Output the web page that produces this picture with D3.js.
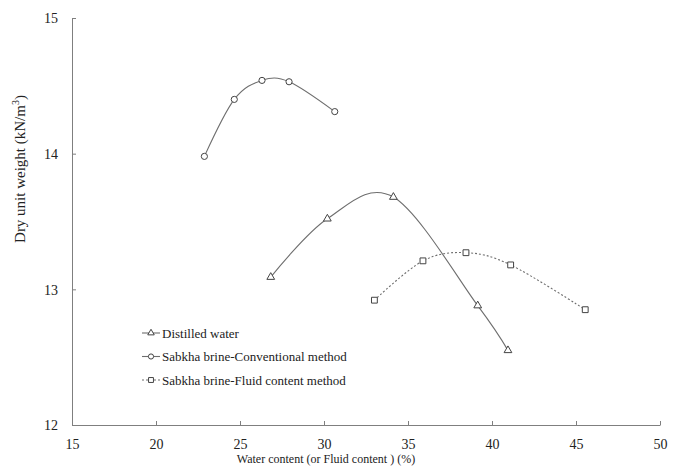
<!DOCTYPE html>
<html>
<head>
<meta charset="utf-8">
<script src="https://cdn.jsdelivr.net/npm/d3@7/dist/d3.min.js"></script>
<style>
  body { margin: 0; background: #fff; }
  svg text { font-family: "Liberation Serif", "Times New Roman", Times, "DejaVu Serif", serif; fill: #222; }
</style>
</head>
<body>
<svg id="chart" width="683" height="471"></svg>
<script>
(function(){
	'use strict';

	// data
	var distilledX = [26.83, 30.2, 34.13, 39.15, 40.95];
	var distilledY = [13.09, 13.52, 13.68, 12.88, 12.55];
	var conventionalX = [22.88, 24.66, 26.31, 27.92, 30.64];
	var conventionalY = [13.98, 14.40, 14.54, 14.53, 14.31];
	var fluidX = [33.0, 35.89, 38.45, 41.11, 45.55];
	var fluidY = [12.92, 13.21, 13.27, 13.18, 12.85];
	var xTicks = [15, 20, 25, 30, 35, 40, 45, 50];
	var yTicks = [12, 13, 14, 15];
	var seriesNames = ['Distilled water', 'Sabkha brine-Conventional method', 'Sabkha brine-Fluid content method'];

	var serif = '"Liberation Serif", "Times New Roman", Times, "DejaVu Serif", serif';
	var svg = d3.select('#chart').attr('font-family', serif);
	var left = 72, right = 660, top = 18, bottom = 425;
	var axisColor = '#7f7f7f', lineColor = '#6e6e6e', markColor = '#444';

	var x = d3.scaleLinear().domain([15, 50]).range([left, right]);
	var y = d3.scaleLinear().domain([12, 15]).range([bottom, top]);

	// axes, ticks pointing inward
	var xAxis = svg.append('g')
		.attr('transform', 'translate(0,' + bottom + ')')
		.call(d3.axisBottom(x).tickValues(xTicks).tickSizeInner(-4).tickSizeOuter(0).tickPadding(14));
	var yAxis = svg.append('g')
		.attr('transform', 'translate(' + left + ',0)')
		.call(d3.axisLeft(y).tickValues(yTicks).tickSizeInner(-4).tickSizeOuter(0).tickPadding(14).tickFormat(d3.format('d')));

	[xAxis, yAxis].forEach(function(a){
		a.attr('font-family', serif).attr('font-size', 14);
		a.select('.domain').attr('stroke', axisColor);
		a.selectAll('.tick line').attr('stroke', axisColor);
		a.selectAll('.tick text').attr('fill', '#222');
	});
	yAxis.selectAll('.tick text').attr('dy', '0.35em');

	// axis titles
	svg.append('text')
		.attr('x', 326)
		.attr('y', 463)
		.attr('text-anchor', 'middle')
		.attr('font-size', 12)
		.text('Water content (or Fluid content ) (%)');

	var yTitle = svg.append('text')
		.attr('transform', 'translate(25,169) rotate(-90)')
		.attr('text-anchor', 'middle')
		.attr('font-size', 15);
	yTitle.append('tspan').text('Dry unit weight (kN/m');
	yTitle.append('tspan').attr('dy', '-6').attr('font-size', 10).text('3');
	yTitle.append('tspan').attr('dy', '6').text(')');

	var series = [
		{ xs: distilledX, ys: distilledY, mark: d3.symbolTriangle, size: 26, dash: null },
		{ xs: conventionalX, ys: conventionalY, mark: d3.symbolCircle, size: 30, dash: null },
		{ xs: fluidX, ys: fluidY, mark: d3.symbolSquare, size: 34, dash: '2,2' }
	];

	var line = d3.line()
		.x(function(d){ return x(d[0]); })
		.y(function(d){ return y(d[1]); })
		.curve(d3.curveCardinal.tension(0));

	series.forEach(function(s){
		var pts = d3.zip(s.xs, s.ys);
		svg.append('path')
			.datum(pts)
			.attr('d', line)
			.attr('fill', 'none')
			.attr('stroke', lineColor)
			.attr('stroke-width', 1.1)
			.attr('stroke-dasharray', s.dash);

		svg.selectAll(null)
			.data(pts)
			.enter()
			.append('path')
				.attr('d', d3.symbol().type(s.mark).size(s.size))
				.attr('transform', function(d){ return 'translate(' + x(d[0]) + ',' + y(d[1]) + ')'; })
				.attr('fill', '#fff')
				.attr('stroke', markColor)
				.attr('stroke-width', 1);
	});

	// legend
	var legend = svg.append('g').attr('transform', 'translate(142,333)');
	series.forEach(function(s, i){
		var row = legend.append('g').attr('transform', 'translate(0,' + (i * 23.5) + ')');
		row.append('line')
			.attr('x1', 0).attr('x2', 18)
			.attr('stroke', lineColor)
			.attr('stroke-width', 1.1)
			.attr('stroke-dasharray', s.dash);
		row.append('path')
			.attr('d', d3.symbol().type(s.mark).size(s.size * 0.7))
			.attr('transform', 'translate(9,0)')
			.attr('fill', '#fff')
			.attr('stroke', markColor);
		row.append('text')
			.attr('x', 20)
			.attr('dy', '0.35em')
			.attr('font-size', 13)
			.text(seriesNames[i]);
	});
})();
</script>
</body>
</html>
